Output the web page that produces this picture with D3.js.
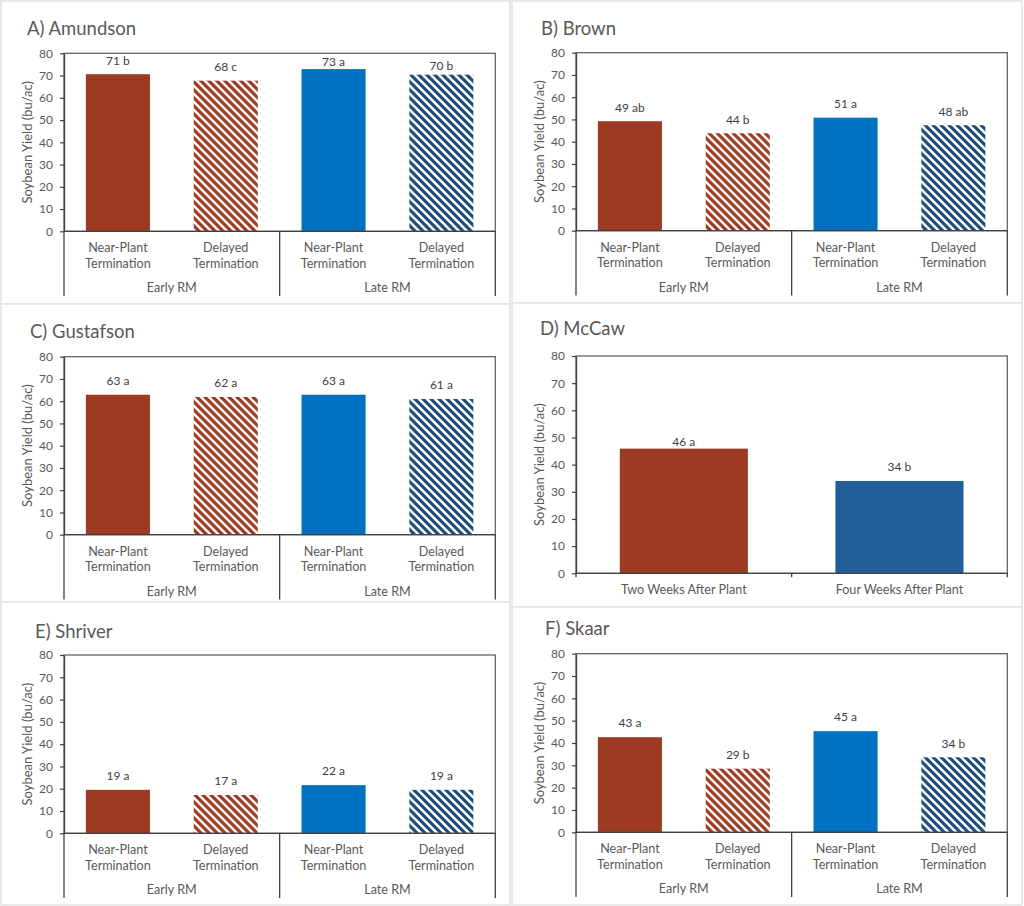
<!DOCTYPE html>
<html><head><meta charset="utf-8">
<script src="https://cdn.jsdelivr.net/npm/d3@7"></script>
<style>body{margin:0;background:#fff}svg{display:block}text{font-family:Lato,"Open Sans",sans-serif}</style>
</head><body><svg id="c" width="1024" height="906"></svg>
<script>
// ---------- data ----------
const yTicks = [0, 10, 20, 30, 40, 50, 60, 70, 80];
const groupNames = ["Early RM", "Late RM"];
const treatmentNames = ["Near-Plant Termination", "Delayed Termination"];
const mccawCategories = ["Two Weeks After Plant", "Four Weeks After Plant"];
const panelTitles = ["A) Amundson", "B) Brown", "C) Gustafson", "D) McCaw", "E) Shriver", "F) Skaar"];
const yAxisTitle = "Soybean Yield (bu/ac)";

const amundsonYield = [70.6, 67.7, 72.9, 70.4];
const amundsonLabels = ["71 b", "68 c", "73 a", "70 b"];
const brownYield = [49.2, 43.8, 50.8, 47.4];
const brownLabels = ["49 ab", "44 b", "51 a", "48 ab"];
const gustafsonYield = [62.9, 61.9, 62.9, 61.0];
const gustafsonLabels = ["63 a", "62 a", "63 a", "61 a"];
const mccawYield = [45.9, 34.0];
const mccawLabels = ["46 a", "34 b"];
const shriverYield = [19.5, 17.2, 21.6, 19.5];
const shriverLabels = ["19 a", "17 a", "22 a", "19 a"];
const skaarYield = [42.6, 28.5, 45.3, 33.6];
const skaarLabels = ["43 a", "29 b", "45 a", "34 b"];

// ---------- layout (positions / styles) ----------
const layout = [
  {frame:[1,1,509,303],   left:64,  right:495.3,  top:53.3,  bottom:231.3, titleX:27,  titleY:35,  nudge:[14,14,7.7,9.4]},
  {frame:[512,1,510,302], left:576, right:1007.3, top:52.7,  bottom:230.7, titleX:541, titleY:35,  nudge:[14,14,14,14]},
  {frame:[1,304,509,298], left:64,  right:495.3,  top:356.7, bottom:534.7, titleX:30,  titleY:338, nudge:[14,14,14,14]},
  {frame:[512,303,510,304],left:576,right:1007.3, top:356,   bottom:573.3, titleX:540, titleY:335, nudge:[6.7,14]},
  {frame:[1,602,509,303], left:64,  right:495.3,  top:655,   bottom:833.3, titleX:35,  titleY:638, nudge:[14,14,14,14]},
  {frame:[512,607,510,298],left:576,right:1007.3, top:653.7, bottom:832.3, titleX:545, titleY:635, nudge:[14,14,14,14]}
];
const BROWN = "#9C3A22", BLUE = "#0070C0", NAVY = "#1F4E79", MCCAW_BLUE = "#215E99";
const TEXT = "#595959", AXIS = "#404040";
const FS_TICK = 12, FS_CAT = 12.6, FS_YT = 13, FS_DL = 12, FS_TITLE = 18.5;

const panels = [
  {values: amundsonYield, labels: amundsonLabels, grouped: true},
  {values: brownYield, labels: brownLabels, grouped: true},
  {values: gustafsonYield, labels: gustafsonLabels, grouped: true},
  {values: mccawYield, labels: mccawLabels, grouped: false},
  {values: shriverYield, labels: shriverLabels, grouped: true},
  {values: skaarYield, labels: skaarLabels, grouped: true}
].map((p, i) => Object.assign({title: panelTitles[i]}, p, layout[i]));

const svg = d3.select("#c");
const defs = svg.append("defs");
function hatch(id, color) {
  const p = defs.append("pattern").attr("id", id).attr("patternUnits", "userSpaceOnUse")
    .attr("width", 8).attr("height", 8);
  p.append("rect").attr("width", 8).attr("height", 8).attr("fill", "#fff");
  p.append("path").attr("d", "M-4,4 L4,12 M0,0 L8,8 M4,-4 L12,4")
    .attr("stroke", color).attr("stroke-width", 3.2);
}
hatch("hBrown", BROWN);
hatch("hNavy", NAVY);

function drawPanel(p) {
  const g = svg.append("g");
  g.append("rect").attr("x", p.frame[0]).attr("y", p.frame[1]).attr("width", p.frame[2]).attr("height", p.frame[3])
    .attr("fill", "#fff").attr("stroke", "#e2e2e2").attr("stroke-width", 1.5);

  g.append("text").attr("x", p.titleX).attr("y", p.titleY).attr("fill", TEXT)
    .attr("font-size", FS_TITLE).text(p.title);

  const y = d3.scaleLinear().domain([0, 80]).range([p.bottom, p.top]);
  const cats = p.grouped ? groupNames.flatMap(gn => treatmentNames.map(t => gn + "|" + t)) : mccawCategories;
  const x = d3.scaleBand().domain(cats).range([p.left, p.right]).paddingInner(0.406).paddingOuter(0.203);

  const fills = p.grouped ? [BROWN, "url(#hBrown)", BLUE, "url(#hNavy)"] : [BROWN, MCCAW_BLUE];

  g.selectAll("rect.bar").data(cats).join("rect").attr("class", "bar")
    .attr("x", c => x(c)).attr("width", x.bandwidth())
    .attr("y", (c, i) => y(p.values[i])).attr("height", (c, i) => y(0) - y(p.values[i]))
    .attr("fill", (c, i) => fills[i]);

  // plot frame
  g.append("rect").attr("x", p.left).attr("y", p.top).attr("width", p.right - p.left).attr("height", p.bottom - p.top)
    .attr("fill", "none").attr("stroke", "#595959").attr("stroke-width", 1.2);

  // y axis
  const ax = g.append("g").attr("transform", `translate(${p.left},0)`)
    .call(d3.axisLeft(y).tickValues(yTicks).tickSize(4).tickSizeOuter(0).tickPadding(7));
  ax.select(".domain").attr("stroke", AXIS).attr("stroke-width", 1.3);
  ax.selectAll(".tick line").attr("stroke", AXIS).attr("stroke-width", 1.2);
  ax.selectAll(".tick text").attr("fill", TEXT).attr("font-size", FS_TICK).attr("font-family", "Lato");

  // zero line
  g.append("line").attr("x1", p.left).attr("x2", p.right).attr("y1", y(0)).attr("y2", y(0))
    .attr("stroke", AXIS).attr("stroke-width", 1.3);

  // y title
  g.append("text").attr("transform", `translate(${p.left - 32.5},${(p.top + p.bottom) / 2}) rotate(-90)`)
    .attr("text-anchor", "middle").attr("fill", TEXT).attr("font-size", FS_YT).text(yAxisTitle);

  // data labels
  g.selectAll("text.dl").data(cats).join("text").attr("class", "dl")
    .attr("x", c => x(c) + x.bandwidth() / 2).attr("y", (c, i) => y(p.values[i]) - p.nudge[i] + 4.3)
    .attr("text-anchor", "middle").attr("fill", AXIS).attr("font-size", FS_DL)
    .text((c, i) => p.labels[i]);

  if (p.grouped) {
    const sepBottom = p.bottom + 64.7;
    const mid = (x(cats[1]) + x.bandwidth() + x(cats[2])) / 2;
    [p.left, mid, p.right].forEach(xx => g.append("line").attr("x1", xx).attr("x2", xx)
      .attr("y1", p.bottom).attr("y2", sepBottom).attr("stroke", AXIS).attr("stroke-width", 1.3));
    cats.forEach(c => {
      const words = c.split("|")[1].split(" ");
      const t = g.append("text").attr("text-anchor", "middle").attr("fill", TEXT).attr("font-size", FS_CAT);
      words.forEach((w, k) => t.append("tspan").attr("x", x(c) + x.bandwidth() / 2)
        .attr("y", p.bottom + 21 + k * 15.7).text(w));
    });
    groupNames.forEach((gn, k) => {
      const x0 = k === 0 ? p.left : mid, x1 = k === 0 ? mid : p.right;
      g.append("text").attr("x", (x0 + x1) / 2).attr("y", p.bottom + 61).attr("text-anchor", "middle")
        .attr("fill", TEXT).attr("font-size", FS_CAT).text(gn);
    });
  } else {
    const mid = (p.left + p.right) / 2;
    [p.left, mid, p.right].forEach(xx => g.append("line").attr("x1", xx).attr("x2", xx)
      .attr("y1", p.bottom).attr("y2", p.bottom + 4).attr("stroke", AXIS).attr("stroke-width", 1.3));
    cats.forEach(c => g.append("text").attr("x", x(c) + x.bandwidth() / 2).attr("y", p.bottom + 21)
      .attr("text-anchor", "middle").attr("fill", TEXT).attr("font-size", FS_CAT).text(c));
  }
}
panels.forEach(drawPanel);
</script></body></html>
